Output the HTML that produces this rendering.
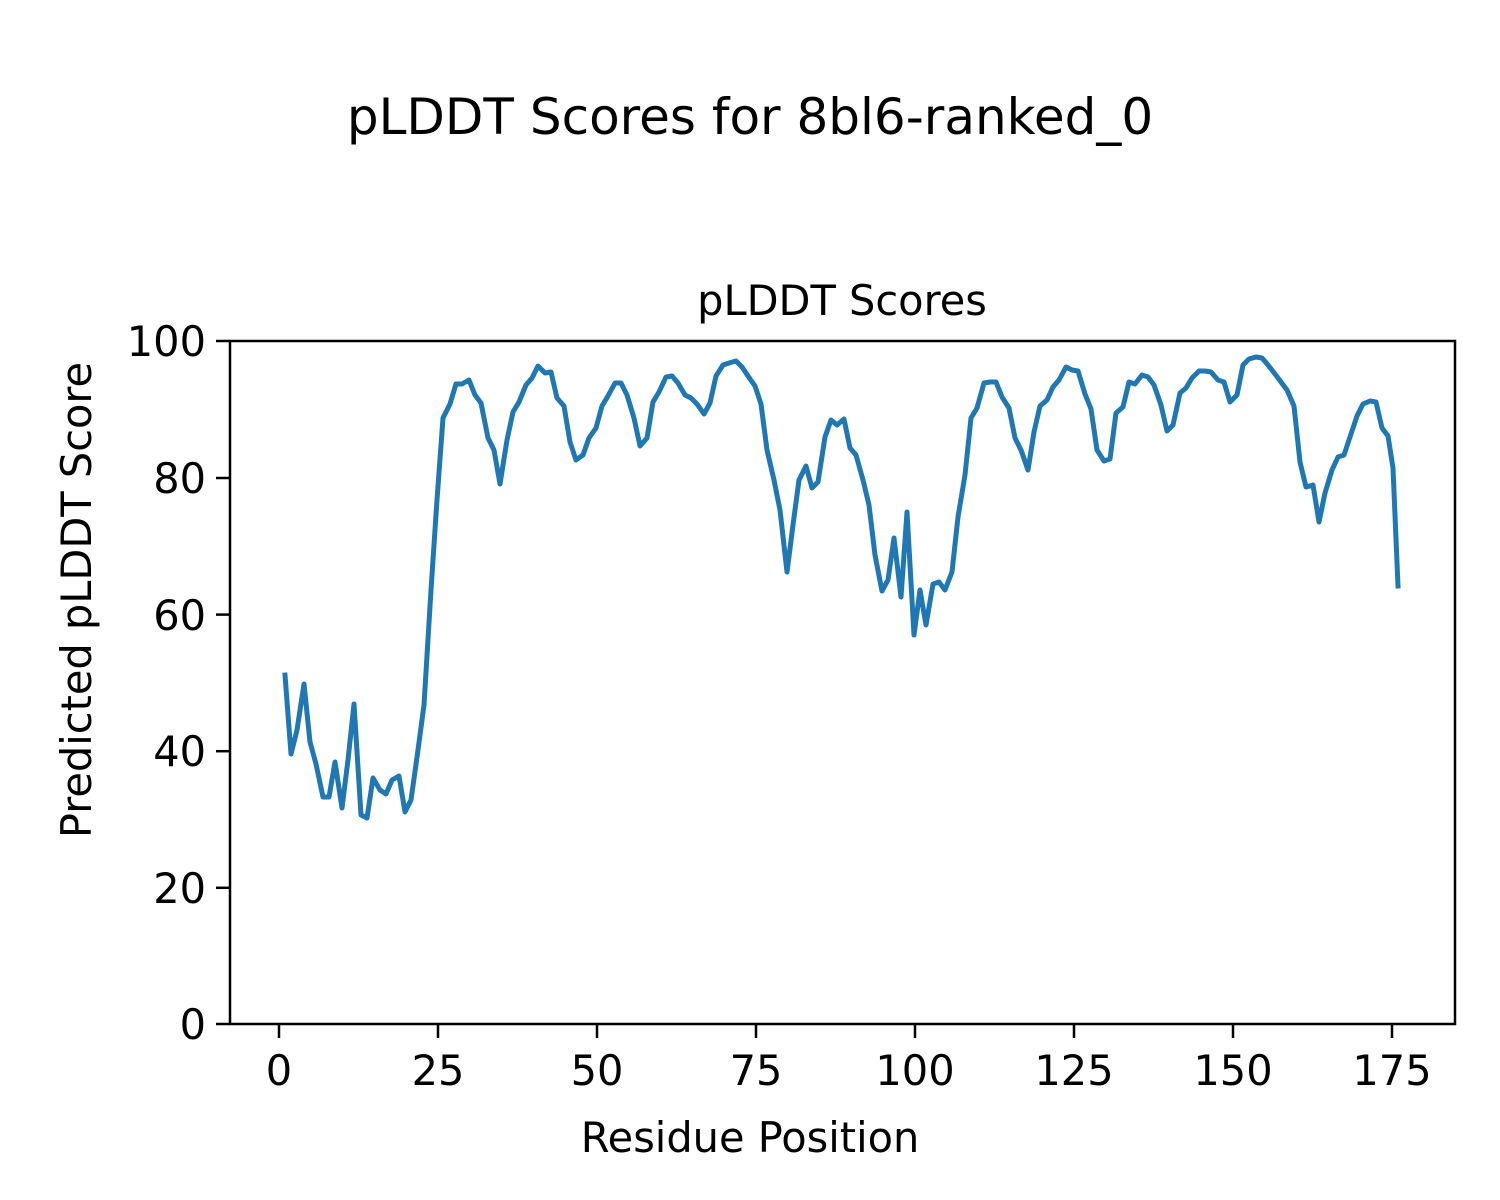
<!DOCTYPE html>
<html><head><meta charset="utf-8"><style>
html,body{margin:0;padding:0;background:#fff;}
svg{display:block;}
text{font-family:"DejaVu Sans","Liberation Sans",sans-serif;fill:#000;}
</style></head><body>
<svg width="1500" height="1200" viewBox="0 0 1500 1200" xmlns="http://www.w3.org/2000/svg">
<rect width="1500" height="1200" fill="#fff"/>
<text x="750" y="134" font-size="41.5" text-anchor="middle" style="font-size:50px">pLDDT Scores for 8bl6-ranked_0</text>
<text x="842" y="315" font-size="41.5" text-anchor="middle">pLDDT Scores</text>
<polyline fill="none" stroke="#1f77b4" stroke-width="5" stroke-linejoin="round" stroke-linecap="square" points="
285,675 291,754 297,730 304,684 310,742 316,764 323,797 329,797 335,762 342,808 348,760 354,704 361,815 367,818 373,778 380,790 386,794 392,780 399,776 405,812 411,800 418,750 424,705 431,590 437,500 443,418 450,404 456,384 462,384 469,380 475,395 481,403 488,438 494,450 500,484 507,440 513,412 519,402 526,385 532,378 538,366 545,373 551,372 557,398 564,406 570,442 576,460 583,455 589,438 596,428 602,406 608,396 615,383 621,383 627,395 634,418 640,446 647,438 653,402 659,392 666,377 672,376 678,383 685,395 691,398 697,404 704,414 710,403 716,376 723,365 729,363 736,361 742,367 748,376 755,386 761,404 767,450 774,480 780,510 787,572 793,525 799,480 806,466 812,488 818,482 825,437 831,420 837,425 844,419 850,448 856,455 863,480 869,505 875,555 882,591 888,580 894,538 901,597 907,512 914,635 920,590 926,625 933,584 939,582 945,590 952,572 958,517 965,475 971,418 977,408 984,383 990,382 996,382 1002,397 1009,408 1015,438 1021,450 1028,470 1034,432 1040,406 1047,400 1053,387 1059,380 1066,367 1072,370 1078,371 1085,394 1091,409 1097,450 1104,461 1110,459 1116,413 1123,407 1129,382 1135,384 1142,375 1148,377 1154,385 1161,405 1167,431 1173,425 1180,393 1186,388 1192,378 1199,371 1205,371 1211,372 1218,380 1224,382 1230,402 1237,395 1243,365 1249,359 1256,357 1262,358 1268,365 1275,374 1281,382 1287,390 1294,406 1300,462 1306,487 1313,485 1319,522 1325,493 1332,470 1338,457 1344,455 1351,434 1357,416 1363,404 1370,401 1376,402 1382,428 1388,436 1393,468 1398,586"/>
<rect x="230" y="341" width="1225" height="683" fill="none" stroke="#000" stroke-width="2.5"/>
<g stroke="#000" stroke-width="2.5">
<line x1="216" y1="341" x2="230" y2="341"/><line x1="216" y1="478" x2="230" y2="478"/><line x1="216" y1="614.6" x2="230" y2="614.6"/><line x1="216" y1="751.2" x2="230" y2="751.2"/><line x1="216" y1="887.8" x2="230" y2="887.8"/><line x1="216" y1="1024" x2="230" y2="1024"/>
<line x1="279" y1="1024" x2="279" y2="1038"/><line x1="438" y1="1024" x2="438" y2="1038"/><line x1="597" y1="1024" x2="597" y2="1038"/><line x1="756" y1="1024" x2="756" y2="1038"/><line x1="915" y1="1024" x2="915" y2="1038"/><line x1="1074" y1="1024" x2="1074" y2="1038"/><line x1="1233" y1="1024" x2="1233" y2="1038"/><line x1="1392" y1="1024" x2="1392" y2="1038"/>
</g>
<g font-size="41.5" text-anchor="end">
<text x="206" y="356">100</text><text x="206" y="493">80</text><text x="206" y="630">60</text><text x="206" y="766">40</text><text x="206" y="903">20</text><text x="206" y="1039">0</text>
</g>
<g font-size="41.5" text-anchor="middle">
<text x="279" y="1085">0</text><text x="438" y="1085">25</text><text x="597" y="1085">50</text><text x="756" y="1085">75</text><text x="915" y="1085">100</text><text x="1074" y="1085">125</text><text x="1233" y="1085">150</text><text x="1392" y="1085">175</text>
</g>
<text x="750" y="1152" font-size="41.5" text-anchor="middle">Residue Position</text>
<text transform="translate(91,600) rotate(-90)" font-size="41.5" text-anchor="middle">Predicted pLDDT Score</text>
</svg>
</body></html>
